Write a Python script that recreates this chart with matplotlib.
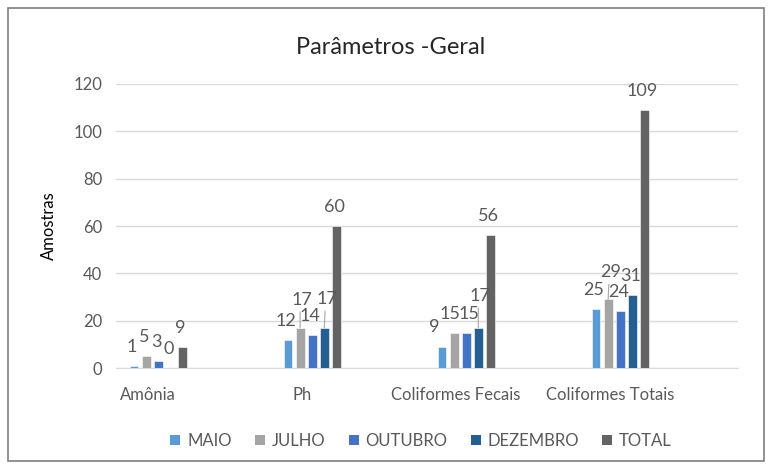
import matplotlib.pyplot as plt
from matplotlib.patches import Rectangle, Patch
import numpy as np

# dados
categorias = ['Amônia', 'Ph', 'Coliformes Fecais', 'Coliformes Totais']
series = ['MAIO', 'JULHO', 'OUTUBRO', 'DEZEMBRO', 'TOTAL']
maio = [1, 12, 9, 25]
julho = [5, 17, 15, 29]
outubro = [3, 14, 15, 24]
dezembro = [0, 17, 17, 31]
total = [9, 60, 56, 109]

valores = [maio, julho, outubro, dezembro, total]
cores = ['#5B9BD5', '#A5A5A5', '#4472C4', '#255E91', '#636363']

# deslocamento dos rótulos (pixels) quando o Excel os empurrou para o lado/para cima
ajustes = {(1, 1): (2, 28), (1, 3): (3, 29), (2, 3): (2, 32), (3, 1): (3, 27),
           (2, 0): (-8, 20), (2, 1): (-4, 19), (2, 2): (3, 19)}

plt.rcParams['font.family'] = ['Lato', 'DejaVu Sans']

fig = plt.figure(figsize=(7.71, 4.69), dpi=100)
fig.patches.append(Rectangle((8 / 771, 8 / 469), 756 / 771, 453 / 469, transform=fig.transFigure,
                             fill=False, edgecolor='#7F7F7F', lw=1.2))
ax = fig.add_axes([116 / 771, 101 / 469, 622 / 771, 284 / 469])

x = np.arange(len(categorias))
largura = 0.058
passo = 0.0786
for j, (nome, vals) in enumerate(zip(series, valores)):
    pos = x - 0.091 + j * passo
    ax.bar(pos, vals, width=largura, color=cores[j], edgecolor='white', linewidth=0.4,
           label=nome, zorder=3)
    for i, v in enumerate(vals):
        dx, dy = ajustes.get((i, j), (-2, 19))
        seta = None
        if dy > 24:
            seta = dict(arrowstyle='-', color='#A6A6A6', lw=0.8, shrinkA=1, shrinkB=0,
                        relpos=(0.4, 0.0))
        ax.annotate(str(v), xy=(pos[i], v), xytext=(dx, dy), textcoords='offset pixels',
                    ha='center', va='center', fontsize=13, color='#595959',
                    arrowprops=seta, zorder=4)

ax.set_xlim(-0.208, 3.831)
ax.set_ylim(0, 120)
ax.set_yticks(range(0, 121, 20))
ax.set_xticks(x)
ax.set_xticklabels(categorias)
ax.grid(axis='y', color='#D9D9D9', lw=1, zorder=0)
for lado in ['top', 'right', 'left']:
    ax.spines[lado].set_visible(False)
ax.spines['bottom'].set_color('#D9D9D9')
ax.tick_params(axis='y', length=0, labelsize=12, labelcolor='#595959', pad=10)
ax.tick_params(axis='x', length=0, labelsize=12, labelcolor='#595959', pad=14)
ax.set_ylabel('Amostras', fontsize=12, color='black', labelpad=12)

fig.text(0.507, 1 - 47 / 469, 'Parâmetros -Geral', ha='center', va='center', fontsize=17, color='#262626')

alças = [Patch(facecolor=c, edgecolor='none') for c in cores]
fig.legend(alças, series, loc='center', bbox_to_anchor=(0.546, 1 - 441 / 469), ncol=5,
           frameon=False, fontsize=12, labelcolor='#595959', handlelength=0.6, handleheight=0.6,
           handletextpad=0.4, columnspacing=1.4)

fig.savefig('out.png', dpi=100)
